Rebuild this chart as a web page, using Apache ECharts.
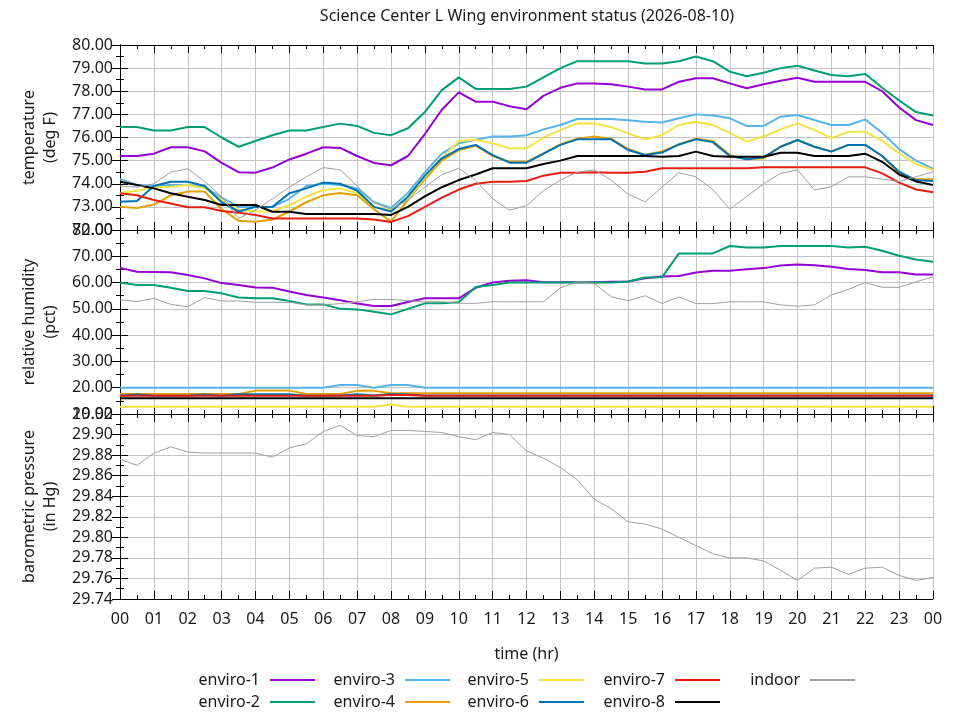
<!DOCTYPE html>
<html>
<head>
<meta charset="utf-8">
<script src="https://cdn.jsdelivr.net/npm/echarts@6/dist/echarts.min.js"></script>
<style>
html, body { margin: 0; padding: 0; background: #fff; }
#chart { width: 960px; height: 720px; }
</style>
</head>
<body>
<div id="chart"></div>
<script>
// sample times (hr), one reading every half hour
const hours = [0, 0.5, 1, 1.5, 2, 2.5, 3, 3.5, 4, 4.5, 5, 5.5, 6, 6.5, 7, 7.5, 8, 8.5, 9, 9.5,
  10, 10.5, 11, 11.5, 12, 12.5, 13, 13.5, 14, 14.5, 15, 15.5, 16, 16.5, 17, 17.5, 18, 18.5, 19, 19.5,
  20, 20.5, 21, 21.5, 22, 22.5, 23, 23.5, 24];

// temperature (deg F)
const tempE1 = [75.2, 75.2, 75.3, 75.58, 75.58, 75.4, 74.9, 74.5, 74.48, 74.7, 75.05, 75.3, 75.58, 75.55, 75.2, 74.9, 74.8, 75.2, 76.15, 77.2,
  77.95, 77.55, 77.55, 77.35, 77.22, 77.8, 78.15, 78.34, 78.34, 78.3, 78.2, 78.08, 78.08, 78.41, 78.56, 78.56, 78.34, 78.13, 78.3, 78.45,
  78.58, 78.41, 78.41, 78.41, 78.41, 78.0, 77.3, 76.75, 76.54];
const tempE2 = [76.45, 76.45, 76.3, 76.3, 76.45, 76.45, 76.0, 75.6, 75.85, 76.1, 76.3, 76.3, 76.45, 76.6, 76.5, 76.2, 76.1, 76.4, 77.1, 78.05,
  78.6, 78.1, 78.1, 78.1, 78.2, 78.6, 79.0, 79.3, 79.3, 79.3, 79.3, 79.2, 79.2, 79.3, 79.5, 79.3, 78.85, 78.65, 78.8, 79.0,
  79.1, 78.9, 78.7, 78.65, 78.75, 78.15, 77.6, 77.1, 76.95];
const tempE3 = [74.2, 73.95, 73.9, 73.95, 73.95, 73.85, 73.4, 73.0, 73.0, 73.0, 73.35, 73.9, 74.0, 73.95, 73.8, 73.2, 72.95, 73.6, 74.5, 75.3,
  75.75, 75.9, 76.04, 76.04, 76.1, 76.35, 76.54, 76.8, 76.8, 76.8, 76.75, 76.68, 76.65, 76.83, 77.0, 76.95, 76.83, 76.5, 76.5, 76.9,
  76.97, 76.76, 76.54, 76.54, 76.78, 76.2, 75.5, 75.0, 74.65];
const tempE4 = [73.0, 72.95, 73.1, 73.5, 73.66, 73.66, 72.9, 72.4, 72.36, 72.45, 72.8, 73.2, 73.5, 73.6, 73.5, 72.9, 72.36, 73.3, 74.2, 75.0,
  75.45, 75.65, 75.2, 74.95, 74.95, 75.3, 75.7, 75.95, 76.04, 75.95, 75.5, 75.25, 75.4, 75.7, 75.95, 75.85, 75.25, 75.06, 75.1, 75.6,
  75.89, 75.6, 75.4, 75.68, 75.68, 75.2, 74.45, 74.2, 74.2];
const tempE5 = [73.6, 73.7, 73.85, 73.87, 73.95, 73.8, 73.3, 72.86, 72.8, 72.8, 73.08, 73.44, 73.73, 73.8, 73.6, 73.0, 72.86, 73.35, 74.3, 75.1,
  75.85, 75.9, 75.75, 75.53, 75.53, 76.0, 76.32, 76.61, 76.61, 76.45, 76.18, 75.92, 76.1, 76.54, 76.68, 76.55, 76.2, 75.82, 76.04, 76.35,
  76.61, 76.32, 75.97, 76.25, 76.25, 75.85, 75.32, 74.85, 74.6];
const tempE6 = [73.22, 73.25, 73.9, 74.09, 74.09, 73.9, 73.2, 72.8, 73.0, 73.0, 73.59, 73.8, 74.05, 74.0, 73.7, 73.0, 72.8, 73.44, 74.35, 75.1,
  75.5, 75.68, 75.24, 74.91, 74.91, 75.3, 75.68, 75.92, 75.92, 75.92, 75.46, 75.24, 75.35, 75.7, 75.92, 75.8, 75.2, 75.06, 75.15, 75.6,
  75.89, 75.6, 75.39, 75.68, 75.68, 75.2, 74.52, 74.15, 74.12];
const tempE7 = [73.59, 73.5, 73.3, 73.15, 72.98, 72.98, 72.82, 72.75, 72.65, 72.5, 72.5, 72.5, 72.5, 72.5, 72.5, 72.45, 72.35, 72.6, 73.0, 73.4,
  73.75, 74.0, 74.09, 74.09, 74.12, 74.35, 74.48, 74.48, 74.5, 74.48, 74.48, 74.52, 74.67, 74.67, 74.67, 74.67, 74.67, 74.67, 74.71, 74.71,
  74.71, 74.71, 74.71, 74.71, 74.71, 74.45, 74.05, 73.75, 73.63];
const tempE8 = [74.09, 73.95, 73.8, 73.59, 73.44, 73.3, 73.08, 73.08, 73.08, 72.79, 72.79, 72.69, 72.69, 72.69, 72.69, 72.69, 72.65, 73.0, 73.45, 73.85,
  74.16, 74.4, 74.67, 74.67, 74.67, 74.85, 75.0, 75.2, 75.2, 75.2, 75.2, 75.2, 75.17, 75.2, 75.39, 75.2, 75.17, 75.17, 75.17, 75.34,
  75.34, 75.2, 75.2, 75.2, 75.3, 74.95, 74.4, 74.1, 73.95];
const tempIndoor = [73.9, 73.85, 74.0, 74.5, 74.65, 74.1, 73.44, 72.5, 72.86, 73.35, 73.85, 74.3, 74.7, 74.6, 73.9, 73.2, 72.9, 73.3, 73.85, 74.4,
  74.67, 74.15, 73.35, 72.86, 73.05, 73.7, 74.16, 74.5, 74.6, 74.16, 73.55, 73.22, 73.85, 74.48, 74.3, 73.75, 72.9, 73.45, 74.0, 74.45,
  74.6, 73.73, 73.87, 74.3, 74.3, 74.2, 74.1, 74.3, 74.52];

// relative humidity (pct)
const rhE1 = [65.6, 64.1, 64.0, 63.9, 62.9, 61.6, 59.8, 59.1, 58.1, 58.0, 56.6, 55.3, 54.3, 53.3, 52.0, 51.1, 51.1, 52.6, 54.0, 54.0,
  54.0, 58.0, 60.0, 60.7, 60.9, 60.1, 60.1, 60.1, 60.1, 60.3, 60.4, 61.6, 62.3, 62.5, 63.8, 64.5, 64.5, 65.05, 65.5, 66.5,
  66.9, 66.6, 66.05, 65.2, 64.8, 63.9, 63.9, 63.1, 63.1];
const rhE2 = [60.0, 59.1, 59.1, 58.05, 56.8, 56.8, 55.9, 54.3, 54.0, 54.0, 53.0, 51.7, 51.7, 50.0, 49.8, 48.9, 47.9, 50.0, 52.1, 52.1,
  52.5, 58.3, 59.1, 60.0, 60.0, 60.0, 60.0, 60.0, 60.0, 60.0, 60.4, 61.9, 62.0, 71.1, 71.1, 71.1, 73.9, 73.3, 73.3, 73.9,
  73.9, 73.9, 73.9, 73.3, 73.6, 72.1, 70.2, 68.8, 67.9];
const rhE3 = [20.0, 20.0, 20.0, 20.0, 20.0, 20.0, 20.0, 20.0, 20.0, 20.0, 20.0, 20.0, 20.0, 21.0, 21.0, 20.0, 21.0, 21.0, 20.0, 20.0,
  20.0, 20.0, 20.0, 20.0, 20.0, 20.0, 20.0, 20.0, 20.0, 20.0, 20.0, 20.0, 20.0, 20.0, 20.0, 20.0, 20.0, 20.0, 20.0, 20.0,
  20.0, 20.0, 20.0, 20.0, 20.0, 20.0, 20.0, 20.0, 20.0];
const rhE4 = [17.6, 17.6, 17.6, 17.6, 17.6, 17.6, 17.6, 17.6, 18.9, 18.9, 18.9, 17.6, 17.6, 17.6, 18.8, 18.8, 17.9, 17.9, 17.9, 17.9,
  17.9, 17.9, 17.9, 17.9, 17.9, 17.9, 17.9, 17.9, 17.9, 17.9, 17.9, 17.9, 17.9, 17.9, 17.9, 17.9, 17.9, 17.9, 17.9, 17.9,
  17.9, 17.9, 17.9, 17.9, 17.9, 17.9, 17.9, 17.9, 17.9];
const rhE5 = [12.8, 12.8, 12.8, 12.8, 12.8, 12.8, 12.8, 12.8, 12.8, 12.8, 12.8, 12.8, 12.8, 12.8, 12.8, 12.8, 13.6, 12.8, 12.8, 12.8,
  12.8, 12.8, 12.8, 12.8, 12.8, 12.8, 12.8, 12.8, 12.8, 12.8, 12.8, 12.8, 12.8, 12.8, 12.8, 12.8, 12.8, 12.8, 12.8, 12.8,
  12.8, 12.8, 12.8, 12.8, 12.8, 12.8, 12.8, 12.8, 12.8];
const rhE6 = [16.9, 17.4, 16.9, 16.9, 16.9, 17.4, 16.9, 17.5, 17.5, 17.5, 17.5, 16.9, 16.9, 17.0, 17.5, 17.0, 17.6, 17.4, 17.0, 17.0,
  17.0, 17.0, 17.0, 17.0, 17.0, 17.0, 17.0, 17.0, 17.0, 17.0, 17.0, 17.0, 17.0, 17.0, 17.0, 17.0, 17.0, 17.0, 17.0, 17.0,
  17.0, 17.0, 17.0, 17.0, 17.0, 17.0, 17.0, 17.0, 17.0];
const rhE7 = [16.9, 16.9, 16.9, 16.9, 16.9, 16.9, 16.9, 16.9, 16.9, 16.9, 16.9, 16.9, 16.9, 16.9, 16.9, 16.9, 17.2, 17.2, 16.9, 16.9,
  16.9, 16.9, 16.9, 16.9, 16.9, 16.9, 16.9, 16.9, 16.9, 16.9, 16.9, 16.9, 16.9, 16.9, 16.9, 16.9, 16.9, 16.9, 16.9, 16.9,
  16.9, 16.9, 16.9, 16.9, 16.9, 16.9, 16.9, 16.9, 16.9];
const rhE8 = [16.0, 16.0, 16.0, 16.0, 16.0, 16.0, 16.0, 16.0, 16.0, 16.0, 16.0, 16.0, 16.0, 16.0, 16.0, 16.0, 16.0, 16.0, 16.0, 16.0,
  16.0, 16.0, 16.0, 16.0, 16.0, 16.0, 16.0, 16.0, 16.0, 16.0, 16.0, 16.0, 16.0, 16.0, 16.0, 16.0, 16.0, 16.0, 16.0, 16.0,
  16.0, 16.0, 16.0, 16.0, 16.0, 16.0, 16.0, 16.0, 16.0];
const rhIndoor = [53.4, 52.8, 54.0, 51.7, 50.8, 54.3, 53.0, 53.0, 52.5, 52.5, 52.5, 51.5, 51.5, 52.0, 52.7, 53.6, 53.6, 53.1, 52.7, 52.7,
  52.1, 52.1, 52.7, 52.7, 52.7, 52.7, 58.0, 60.3, 59.7, 54.6, 53.1, 55.0, 52.0, 54.5, 52.0, 52.0, 52.7, 52.7, 52.7, 51.5,
  51.0, 51.5, 55.3, 57.4, 60.0, 58.2, 58.2, 60.3, 62.2];

// barometric pressure (in Hg), indoor sensor only
const pressIndoor = [29.876, 29.870, 29.882, 29.888, 29.883, 29.882, 29.882, 29.882, 29.882, 29.878, 29.887, 29.891, 29.903, 29.909, 29.899, 29.898, 29.904, 29.904, 29.903, 29.902,
  29.898, 29.895, 29.902, 29.900, 29.884, 29.877, 29.868, 29.856, 29.837, 29.828, 29.815, 29.813, 29.808, 29.800, 29.792, 29.784, 29.780, 29.780, 29.777, 29.768,
  29.758, 29.770, 29.771, 29.764, 29.770, 29.771, 29.763, 29.758, 29.761];

const sensorNames = ['enviro-1', 'enviro-2', 'enviro-3', 'enviro-4', 'enviro-5', 'enviro-6', 'enviro-7', 'enviro-8', 'indoor'];
const sensorColors = ['#9400d3', '#009e73', '#56b4e9', '#e69f00', '#f0e442', '#0072b2', '#e51e10', '#000000', '#a0a0a0'];
const tempData = [tempE1, tempE2, tempE3, tempE4, tempE5, tempE6, tempE7, tempE8, tempIndoor];
const rhData = [rhE1, rhE2, rhE3, rhE4, rhE5, rhE6, rhE7, rhE8, rhIndoor];

const FONT = 'Noto Sans';
const TXT = '#1a1a1a';

function pairs(vals) {
	return hours.map((h, i) => [h, vals[i]]);
}

let grids = [
	{ left: 120, right: 27, top: 45, height: 185 },
	{ left: 120, right: 27, top: 230, height: 184 },
	{ left: 120, right: 27, top: 414, height: 185 }
];

// x axes: bottom + top mirror for each panel
let xAxes = [];
grids.forEach((g, gi) => {
	['bottom', 'top'].forEach(pos => {
		let main = pos == 'bottom';
		xAxes.push({
			type: 'value',
			gridIndex: gi,
			position: pos,
			min: 0,
			max: 24,
			interval: 1,
			axisLine: { show: true, lineStyle: { color: '#000', width: 1 } },
			axisTick: { show: true, inside: true, length: 8, lineStyle: { color: '#000' } },
			minorTick: { show: true, splitNumber: 2, length: 4, lineStyle: { color: '#000' } },
			splitLine: { show: main, lineStyle: { color: '#c4c4c4', width: 1 } },
			axisLabel: {
				show: main && gi == 2,
				margin: 12,
				fontFamily: FONT,
				fontSize: 16,
				color: TXT,
				formatter: v => String(v % 24).padStart(2, '0')
			},
			name: main && gi == 2 ? 'time (hr)' : '',
			nameLocation: 'middle',
			nameGap: 47,
			nameTextStyle: { fontFamily: FONT, fontSize: 16, color: TXT }
		});
	});
});

// y axes: left + right mirror for each panel
let yDefs = [
	{ min: 72, max: 80, interval: 1, name: 'temperature\n(deg F)' },
	{ min: 10, max: 80, interval: 10, name: 'relative humidity\n(pct)' },
	{ min: 29.74, max: 29.92, interval: 0.02, name: 'barometric pressure\n(in Hg)' }
];
let yAxes = [];
yDefs.forEach((d, gi) => {
	['left', 'right'].forEach(pos => {
		let main = pos == 'left';
		yAxes.push({
			type: 'value',
			gridIndex: gi,
			position: pos,
			min: d.min,
			max: d.max,
			interval: d.interval,
			axisLine: { show: true, lineStyle: { color: '#000', width: 1 } },
			axisTick: { show: true, inside: true, length: 8, lineStyle: { color: '#000' } },
			minorTick: { show: true, splitNumber: 2, length: 4, lineStyle: { color: '#000' } },
			splitLine: { show: main, lineStyle: { color: '#c4c4c4', width: 1 } },
			axisLabel: {
				show: main,
				margin: 7,
				fontFamily: FONT,
				fontSize: 16,
				color: TXT,
				formatter: v => v.toFixed(2)
			},
			name: main ? d.name : '',
			nameLocation: 'middle',
			nameRotate: 90,
			nameGap: 57,
			nameTextStyle: { fontFamily: FONT, fontSize: 16, color: TXT, lineHeight: 21 }
		});
	});
});

let series = [];
sensorNames.forEach((name, i) => {
	let w = name == 'indoor' ? 1 : 2;
	series.push({
		name: name, type: 'line', xAxisIndex: 0, yAxisIndex: 0,
		data: pairs(tempData[i]), showSymbol: false, color: sensorColors[i],
		lineStyle: { width: w }, animation: false
	});
	series.push({
		name: name, type: 'line', xAxisIndex: 2, yAxisIndex: 2,
		data: pairs(rhData[i]), showSymbol: false, color: sensorColors[i],
		lineStyle: { width: w }, animation: false
	});
});
series.push({
	name: 'indoor', type: 'line', xAxisIndex: 4, yAxisIndex: 4,
	data: pairs(pressIndoor), showSymbol: false, color: '#a0a0a0',
	lineStyle: { width: 1 }, animation: false
});

// legend: 2 rows x 5 columns, text right-justified before the line sample
let legendSpots = [
	{ name: 'enviro-1', right: 645, top: 672 },
	{ name: 'enviro-2', right: 645, top: 694 },
	{ name: 'enviro-3', right: 510, top: 672 },
	{ name: 'enviro-4', right: 510, top: 694 },
	{ name: 'enviro-5', right: 376, top: 672 },
	{ name: 'enviro-6', right: 376, top: 694 },
	{ name: 'enviro-7', right: 240, top: 672 },
	{ name: 'enviro-8', right: 240, top: 694 },
	{ name: 'indoor', right: 105, top: 672 }
];
let legends = legendSpots.map(s => ({
	data: [s.name],
	right: s.right,
	top: s.top,
	padding: 0,
	align: 'right',
	icon: 'rect',
	itemWidth: 45,
	itemHeight: 2,
	selectedMode: false,
	textStyle: { fontFamily: FONT, fontSize: 16, color: TXT, padding: [0, 5, 0, 0] }
}));

let myChart = echarts.init(document.getElementById('chart'));
myChart.setOption({
	animation: false,
	backgroundColor: '#fff',
	title: {
		text: 'Science Center L Wing environment status (2026-08-10)',
		left: 522,
		top: 3,
		textAlign: 'center',
		textStyle: { fontFamily: FONT, fontSize: 16, fontWeight: 'normal', color: TXT }
	},
	grid: grids,
	xAxis: xAxes,
	yAxis: yAxes,
	legend: legends,
	series: series
});
</script>
</body>
</html>
